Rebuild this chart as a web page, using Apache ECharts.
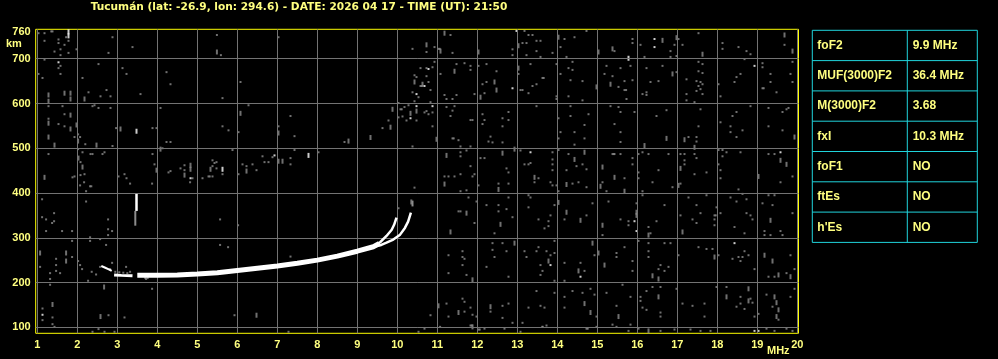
<!DOCTYPE html>
<html><head><meta charset="utf-8">
<script src="https://cdn.jsdelivr.net/npm/echarts@6/dist/echarts.min.js"></script>
<style>html,body{margin:0;padding:0;background:#000;}#c{width:998px;height:359px;}</style>
</head><body><div id="c"></div>
<script>
const titleText = "Tucumán (lat: -26.9, lon: 294.6) - DATE: 2026 04 17 - TIME (UT): 21:50";
const freqTicks = [1,2,3,4,5,6,7,8,9,10,11,12,13,14,15,16,17,18,19,20];
const heightGrid = [100,200,300,400,500,600,700];
const heightLabels = [100,200,300,400,500,600,700,760];
const tableLabels = ["foF2","MUF(3000)F2","M(3000)F2","fxI","foF1","ftEs","h'Es"];
const tableValues = ["9.9 MHz","36.4 MHz","3.68","10.3 MHz","NO","NO","NO"];

// echo traces (frequency MHz, virtual height km)
const oTail1 = [[2.6,237],[2.7,233],[2.8,229],[2.86,226]];
const oTail2 = [[2.92,217],[3.1,216],[3.38,215]];
const oMain = [[3.5,216],[4,216],[4.5,217],[5,219],[5.5,222],[6,227],[6.5,232],[7,237],[7.5,243],[8,250],[8.5,259],[9,270],[9.4,280],[9.55,287]];
const oUpper = [[9.5,285],[9.57,290],[9.73,304],[9.86,318],[9.92,329],[9.98,345]];
const xTrace = [[9.45,281],[9.6,284],[9.73,289],[9.9,296],[10.07,307],[10.19,322],[10.27,336],[10.34,356]];
const xTraceFaint = [[10.38,370],[10.38,383]];
const spikeWhite = [[3.48,360],[3.48,398]];
const spikeGray = [[3.45,327],[3.45,360]];

// scattered echoes / noise
const grayDots = [
[1.03,757],[1.18,757],[1.35,761],[1.38,761],[1.53,743],[1.72,748],[1.18,740],[1.53,735],[1.68,731],[1.78,740],[1.58,721],[1.43,716],[1.58,708],[1.78,713],[1.98,721],[2.88,748],[2.78,713],[3.38,726],[5.49,753],[5.59,708],[7.03,748],
[1.18,698],[1.58,684],[1.53,679],[1.58,666],[1.03,666],[1.13,657],[2.53,688],[3.13,679],[3.23,666],[2.13,657],[4.23,670],[4.33,643],[6.08,648],[2.28,625],[2.73,630],[2.58,616],[2.83,616],[3.58,621],[5.63,612],
[1.28,594],[1.63,594],[2.43,596],[2.53,590],[2.38,594],[2.83,590],[4.08,590],[6.28,596],[1.68,576],[1.28,566],[1.53,554],[1.68,549],[2.02,531],[1.93,525],[2.07,525],[2.97,545],[3.88,545],[3.98,545],[5.63,549],[5.78,540],[6.03,536],[7.03,549],[7.33,572],[7.43,527],[4.23,514],[4.33,514],[2.2,509],[2.88,505],[8.68,514],
[1.28,487],[2.02,498],[2.13,491],[2.33,487],[2.38,487],[2.63,487],[2.68,491],[3.88,487],[4.13,500],[5.88,496],[7.43,496],[8.03,491],[6.63,482],[6.88,480],[7.33,478],[7.33,464],[6.68,469],[6.78,469],[6.13,464],[6.23,460],[6.38,464],[6.48,451],[5.38,473],[5.43,467],[5.48,469],[5.38,460],[5.48,455],[5.63,442],[6.03,442],[4.68,462],[4.58,455],[4.68,451],[4.88,433],[5.13,433],[5.28,437],[5.31,437],[5.38,437],[4.33,449],[4.28,446],[3.93,464],[2.08,469],[1.93,437],[2.08,440],[2.18,442],[1.88,435],[3.03,437],[3.18,442],[3.23,433],
[11.33,753],[11.38,713],[12.88,721],[12.88,708],[13.18,762],[13.28,753],[13.38,753],[13.13,735],[13.23,735],[13.48,740],[13.58,740],[13.48,717],[13.23,708],[13.58,704],[13.88,713],[14.08,726],[14.18,744],[14.43,748],[14.23,704],[14.73,762],[15.43,717],[15.88,744],[15.88,735],[16.08,731],[16.18,704],[16.83,717],[16.93,731],[17.03,744],[17.13,731],[16.98,706],[16.83,704],[17.53,757],[18.13,735],[18.13,722],[18.53,726],[18.73,717],[18.83,710],[19.68,731],
[11.48,688],[11.68,690],[11.83,684],[11.83,675],[11.08,666],[12.23,688],[12.03,684],[12.48,672],[12.23,648],[12.13,643],[12.18,623],[13.03,666],[13.33,688],[13.08,630],[13.13,630],[13.28,623],[13.38,639],[13.48,643],[13.63,657],[13.66,657],[13.98,688],[14.08,666],[14.28,679],[14.38,693],[14.38,675],[14.33,652],[14.63,650],[14.28,616],[13.98,616],[13.98,610],[14.63,607],[15.18,666],[15.23,684],[15.38,661],[15.53,637],[15.68,630],[15.72,630],[15.68,650],[15.88,652],[15.58,679],[15.83,684],[15.73,610],[16.23,679],[16.33,648],[16.23,625],[16.13,621],[16.23,619],[16.63,684],[16.53,650],[16.98,670],[17.23,654],[17.23,621],[17.23,607],[17.53,693],[17.63,688],[17.53,672],[17.63,668],[17.48,650],[17.58,648],[17.63,643],[17.53,639],[17.58,632],[17.48,628],[17.63,621],[18.03,643],[18.08,616],[18.43,648],[18.48,659],[18.58,666],[18.68,699],[19.13,690],[19.13,681],[19.13,634],[19.16,634],[19.33,666],[19.33,648],[19.48,625],[19.83,666],[19.88,648],[19.88,693],[11.38,610],[11.23,610],[11.18,619],[11.48,619],[11.93,621],
[11.23,592],[11.38,584],[11.33,572],[11.43,594],[11.83,563],[11.88,563],[12.13,576],[12.18,563],[12.13,554],[12.63,567],[12.78,581],[12.78,563],[12.63,549],[12.33,526],[12.28,515],[12.38,513],[12.63,513],[13.48,594],[14.03,567],[14.08,536],[14.03,522],[14.33,594],[14.33,572],[14.43,536],[14.68,552],[14.78,576],[14.68,522],[14.43,508],[15.33,594],[15.53,592],[15.58,581],[15.43,554],[15.58,536],[15.58,514],[15.93,581],[16.48,572],[16.73,585],[17.28,525],[17.48,525],[17.48,515],[17.53,549],[17.43,603],[17.58,587],[18.08,558],[18.33,549],[18.33,536],[18.48,525],[18.63,540],[18.48,581],[18.38,572],[18.83,594],[19.63,581],[19.73,587],[19.78,590],[19.28,590],[19.28,549],[19.63,540],[11.38,522],[11.41,522],[11.53,518],[11.58,504],[11.83,504],
[11.58,491],[11.58,482],[11.73,495],[12.08,478],[12.18,478],[13.08,495],[13.18,464],[13.28,464],[13.33,467],[12.73,455],[12.78,446],[13.53,433],[13.88,491],[13.88,475],[13.88,464],[13.88,451],[14.03,496],[14.28,487],[14.48,460],[14.63,464],[14.73,453],[14.23,451],[15.38,487],[15.41,487],[15.43,487],[15.58,487],[15.68,433],[15.88,478],[15.88,464],[16.03,487],[16.03,446],[16.03,433],[16.13,491],[16.28,487],[16.53,451],[16.78,487],[17.08,487],[17.18,487],[17.18,473],[17.18,464],[17.43,487],[17.48,478],[17.43,442],[17.73,446],[18.03,496],[18.13,496],[18.13,482],[18.23,491],[18.03,464],[18.08,451],[18.08,433],[18.58,491],[19.28,487],[19.43,487],[19.88,437],[11.18,437],[11.28,437],[11.43,437],[11.88,437],[11.93,442],[11.83,460],[11.58,442],
[11.58,404],[11.73,406],[12.03,417],[12.53,421],[12.78,421],[13.43,424],[13.83,424],[13.88,417],[13.98,417],[14.03,404],[14.38,421],[14.53,424],[14.73,413],[15.13,424],[15.23,404],[16.13,404],[16.13,395],[16.38,424],[16.88,413],[17.08,421],[18.53,408],[18.63,398],[19.58,424],[19.28,395],[19.43,395],
[11.78,390],[11.53,359],[11.58,359],[11.93,333],[11.98,381],[12.23,373],[12.53,373],[12.53,359],[12.73,364],[12.78,390],[12.43,310],[12.88,346],[13.28,395],[13.33,390],[13.28,368],[13.53,341],[13.78,337],[13.78,326],[13.68,321],[13.83,350],[13.93,373],[14.18,341],[14.73,350],[14.88,377],[15.28,381],[15.13,306],[15.58,341],[15.78,337],[15.78,328],[15.98,377],[16.28,324],[16.33,310],[16.48,337],[16.68,373],[17.08,350],[17.28,390],[17.48,373],[17.58,355],[17.38,341],[17.48,333],[17.73,395],[17.93,350],[17.96,350],[17.93,341],[17.93,328],[17.98,368],[18.08,355],[18.33,390],[18.48,381],[18.43,324],[18.68,310],[18.73,386],[18.73,355],[18.83,350],[18.88,341],[19.13,377],[19.38,373],[19.18,315],[19.18,306],[19.33,306],[19.58,315],[19.88,355],[19.63,306],
[11.28,261],[11.28,221],[11.63,270],[11.63,257],[11.68,253],[11.63,239],[11.73,217],[12.23,235],[12.38,288],[12.38,273],[12.43,257],[12.63,288],[12.73,270],[12.78,213],[13.18,270],[13.23,257],[13.48,270],[13.53,279],[13.58,239],[13.63,226],[13.58,217],[13.73,270],[13.83,261],[13.93,293],[13.93,266],[13.93,204],[14.18,244],[14.18,204],[14.58,244],[14.68,226],[14.93,261],[15.48,266],[15.48,257],[15.68,279],[15.88,248],[15.88,226],[16.03,293],[16.28,288],[16.28,270],[16.28,257],[16.53,230],[16.58,239],[16.68,226],[16.78,235],[16.83,288],[16.68,288],[17.03,261],[17.53,279],[17.73,275],[17.88,275],[18.03,261],[18.38,253],[18.53,257],[18.58,248],[18.63,257],[18.68,270],[18.78,261],[18.93,230],[19.28,213],[19.73,221],[19.83,261],[19.93,230],[19.43,213],
[11.23,153],[11.63,164],[11.68,157],[11.83,144],[11.88,128],[11.68,135],[11.28,124],[11.98,124],[12.33,135],[12.63,148],[12.78,153],[12.63,121],[12.88,110],[13.13,110],[13.28,144],[13.48,181],[13.58,148],[13.68,144],[13.63,101],[13.73,104],[13.93,177],[14.18,168],[14.18,144],[14.38,181],[14.63,177],[14.83,186],[14.93,173],[14.98,124],[15.23,177],[15.48,148],[15.38,106],[15.63,195],[15.83,168],[15.83,106],[16.08,168],[16.08,159],[16.13,144],[16.23,139],[16.38,190],[16.58,133],[16.58,124],[16.23,181],[16.58,190],[16.98,186],[17.13,153],[17.38,148],[17.68,153],[17.68,124],[17.98,190],[18.23,190],[18.58,168],[18.58,153],[18.83,164],[18.88,155],[18.68,141],[18.93,124],[19.03,130],[19.23,173],[19.83,168],[19.93,186],[19.38,146],[19.53,117],[18.48,146],
[11.07,101],[11.83,104],[11.86,104],[12.03,95],[12.06,95],[12.18,97],[12.68,97],[13.08,90],[13.63,101],[14.73,97],[14.76,97],[14.98,101],[15.48,101],[15.78,92],[16.03,97],[16.58,92],[16.93,95],[17.33,95],[17.58,92],[17.83,92],[19.23,97],[19.43,92],[19.73,97],[19.88,92],
[10.38,722],[10.73,715],[10.93,726],[11.03,722],[11.06,722],[10.43,663],[10.58,679],[10.73,679],[10.88,681],[10.93,693],[10.48,659],[10.73,661],[10.58,639],[10.61,639],[10.78,648],[10.83,630],[10.38,625],[10.53,614],[10.43,605],[10.83,603],[10.88,580],[10.78,576],[10.73,583],[10.68,580],[10.28,596],[10.18,592],[10.03,601],[10.08,587],[10.11,587],[10.03,569],[10.13,571],[10.23,562],[10.48,562],[9.78,562],[9.63,545],[10.88,549],[10.38,504],[10.43,412],
[2.07,417],[2.17,424],[2.32,415],[2.35,415],[2.22,404],[3.32,421],[3.87,421],[4.82,424],[1.12,386],[1.12,346],[1.22,341],[1.42,355],[1.37,333],[1.42,337],[1.22,315],[1.62,315],[1.87,315],[2.22,381],[2.77,341],[2.77,319],[2.87,315],[2.77,306],[2.32,301],[2.32,293],[1.87,293],[2.57,297],[2.72,284],[5.57,341],[6.02,328],[5.57,284],[5.77,279],[1.47,253],[1.87,257],[2.02,248],[1.47,239],[1.07,235],[1.32,221],[1.47,226],[1.57,221],[1.32,208],[1.32,195],[2.27,204],[3.87,186],[2.07,239],[2.12,230],[2.36,224],[2.47,218],[2.57,235],[2.87,244],[2.82,230],[3.22,235],[3.32,224],[3.72,208],[2.95,224],[3.05,223],[3.15,222],[3.25,221],[3.7,210],[3.76,210],[7.33,258],[10.03,366],
[1.13,142],[1.13,116],[1.38,122],[1.38,107],[1.43,101],[2.78,127],[3.18,122],[2.53,96],[2.38,90],[2.68,90],[2.93,90],[5.93,127],[7.28,90],[10.53,90],[10.68,97],[10.83,127]
];
const grayStreaks = [
[5.49,715],[1.68,623],[1.83,623],[1.28,619],[1.28,605],[1.83,610],[2.18,610],[6.08,578],[1.83,574],[1.28,556],[1.83,543],[1.98,552],[2.02,516],[1.28,525],[1.43,507],[3.08,543],[7.03,534],[2.48,507],[8.78,516],[4.08,498],[7.03,471],[7.13,471],[6.23,449],[5.33,453],[4.83,462],[4.83,453],[4.68,440],[3.98,451],[2.03,478],[2.13,458],[1.18,435],
[11.18,757],[11.08,717],[12.03,715],[13.03,729],[14.03,748],[15.03,715],[15.38,722],[16.63,741],[16.98,747],[17.63,710],[19.68,753],[19.88,717],[11.43,672],[12.43,648],[12.08,614],[12.48,630],[13.03,679],[14.98,637],[15.33,643],[16.88,666],[16.73,522],[17.18,519],[19.93,525],[11.23,484],[12.63,489],[12.93,498],[13.43,435],[14.43,475],[14.68,491],[15.13,458],[15.43,435],[16.18,506],[17.08,455],[17.43,502],[19.03,437],[19.58,473],[19.73,464],
[11.18,420],[12.53,408],[14.23,419],[15.08,415],[15.68,404],[17.03,417],[11.73,355],[11.33,313],[12.58,330],[14.03,379],[14.23,357],[14.58,339],[15.13,328],[15.98,357],[15.98,350],[16.28,306],[17.13,313],[19.33,339],[11.88,206],[12.93,288],[13.78,248],[14.53,226],[14.88,288],[15.03,266],[15.18,239],[16.38,215],[16.53,208],[17.93,257],[19.18,261],[19.38,248],[19.53,217],[19.83,213],[11.53,133],[11.88,101],[12.33,146],[14.68,153],[14.83,133],[15.53,124],[16.53,168],[18.23,168],[18.78,186],[18.78,159],[19.43,168],[19.48,155],[19.53,139],[19.48,124],[16.28,92],
[10.73,731],[10.43,648],[10.63,643],[10.48,583],[10.33,578],[9.88,587],[9.83,547],[9.33,524],[10.98,520],
[1.07,266],[1.72,266],[1.72,248],[2.67,190],[1.38,151],[2.58,124],[6.48,127],[11.03,148],[10.35,380]
];
const whiteDots = [[1.53,692],[6.93,484],[4.83,433],[12.98,762],[16.43,744],[16.43,726],[12.88,634],[18.93,684],[13.33,491],[19.58,491],[15.93,337],[15.98,315],[13.83,239],[14.58,213],[18.43,288],[18.93,92],[19.03,92],[10.78,677],[10.68,639],[10.48,621],[10.48,594],[10.88,594],[10.33,567],[1.13,128]];
const whiteStreaks = [[1.78,760],[1.78,751],[3.48,538],[7.78,484],[5.63,453],[15.78,701]];

const chart = echarts.init(document.getElementById('c'), null, {renderer:'canvas'});
const FONT = 'Liberation Sans';
const TFONT = 'DejaVu Sans';
const YEL = '#ffff80';
const GRAY = '#8c8c8c';
const GRID = '#737373';

function lineSeries(data, color, width){
  return {type:'line', data:data, showSymbol:false, symbol:'none', clip:false, silent:true,
    lineStyle:{color:color, width:width}, z:5, animation:false};
}
function dots(data, color, size, z){
  return {type:'scatter', data:data, symbol:'rect', symbolSize:size, clip:false, silent:true,
    itemStyle:{color:color}, z:z, animation:false};
}

// table graphics
const tbl = {x0:812.3, x1:907.3, x2:977.3, y0:30.3, rowH:30.3};
const tableChildren = [];
tableChildren.push({type:'rect', shape:{x:tbl.x0, y:tbl.y0, width:tbl.x2-tbl.x0, height:tbl.rowH*tableLabels.length}, style:{fill:'none', stroke:'#20d4dc', lineWidth:1}});
tableChildren.push({type:'line', shape:{x1:tbl.x1, y1:tbl.y0, x2:tbl.x1, y2:tbl.y0+tbl.rowH*tableLabels.length}, style:{stroke:'#20d4dc', lineWidth:1}});
tableLabels.forEach((lab,i)=>{
  const yc = tbl.y0 + tbl.rowH*(i+0.5);
  if(i>0) tableChildren.push({type:'line', shape:{x1:tbl.x0, y1:tbl.y0+tbl.rowH*i, x2:tbl.x2, y2:tbl.y0+tbl.rowH*i}, style:{stroke:'#20d4dc', lineWidth:1}});
  tableChildren.push({type:'text', x:817.3, y:yc, style:{text:lab, fill:YEL, font:'bold 12px "'+FONT+'"', verticalAlign:'middle', align:'left'}});
  tableChildren.push({type:'text', x:912.7, y:yc, style:{text:tableValues[i], fill:YEL, font:'bold 12px "'+FONT+'"', verticalAlign:'middle', align:'left'}});
});

const option = {
  backgroundColor:'#000',
  animation:false,
  title:{text:titleText, left:299, top:2, textAlign:'center', padding:0,
    textStyle:{color:YEL, fontSize:10.6, fontWeight:'bold', fontFamily:TFONT}},
  grid:{left:35.7, top:29.3, width:762.8, height:304, show:true, borderColor:'#ffff00', borderWidth:1, backgroundColor:'transparent'},
  xAxis:{type:'value', min:0.96, max:20.03,
    axisLine:{show:false}, axisTick:{show:false}, splitLine:{show:false},
    axisLabel:{customValues:freqTicks, color:YEL, fontSize:11, fontWeight:'bold', fontFamily:FONT, margin:6}},
  yAxis:{type:'value', min:86.6, max:765.7,
    axisLine:{show:false}, axisTick:{show:false}, splitLine:{show:false},
    axisLabel:{customValues:heightLabels, color:YEL, fontSize:11, fontWeight:'bold', fontFamily:FONT, margin:5}},
  graphic:[
    {type:'text', left:6, top:38.5, style:{text:'km', fill:YEL, font:'bold 11px "'+FONT+'"'}},
    {type:'text', left:767, top:345, style:{text:'MHz', fill:YEL, font:'bold 11px "'+FONT+'"'}},
    {type:'group', children:tableChildren}
  ],
  series:[
    {type:'scatter', data:[], silent:true, z:1,
      markLine:{silent:true, symbol:['none','none'], animation:false, label:{show:false},
        lineStyle:{color:GRID, width:1, type:'solid'},
        data: freqTicks.map(v=>({xAxis:v})).concat(heightGrid.map(v=>({yAxis:v})))}},
    dots(grayDots, GRAY, [2,2], 3),
    dots(grayStreaks, GRAY, [2,5], 3),
    dots(whiteDots, '#ffffff', [2,2], 4),
    dots(whiteStreaks, '#ffffff', [2,5], 4),
    lineSeries(spikeGray, GRAY, 2),
    lineSeries(spikeWhite, '#ffffff', 2.5),
    lineSeries(oTail1, '#ffffff', 2),
    lineSeries(oTail2, '#ffffff', 3),
    lineSeries(oMain, '#ffffff', 5),
    lineSeries(oUpper, '#ffffff', 2.5),
    lineSeries(xTrace, '#ffffff', 2.5),
    lineSeries(xTraceFaint, GRAY, 2)
  ]
};
chart.setOption(option);
</script></body></html>
